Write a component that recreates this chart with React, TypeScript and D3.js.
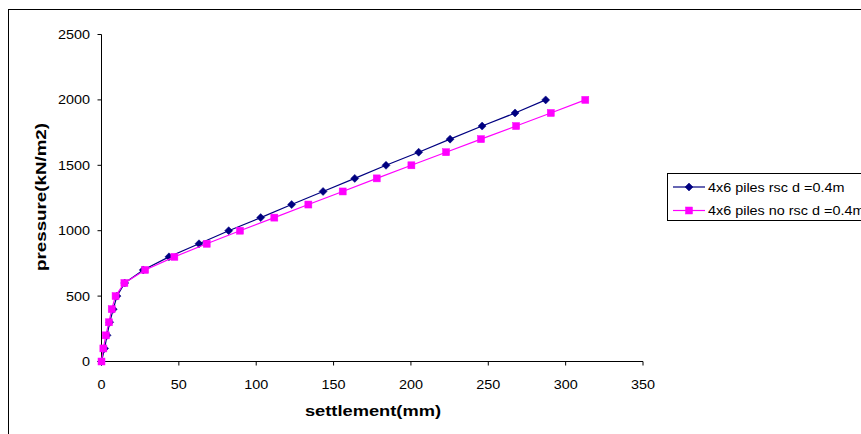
import React from "react";
import * as d3 from "d3";

const pressures = [0, 100, 200, 300, 400, 500, 600, 700, 800, 900, 1000, 1100, 1200, 1300, 1400, 1500, 1600, 1700, 1800, 1900, 2000];
const settlementRsc = [0, 2, 3.6, 5.3, 7.6, 10, 15, 27, 43.6, 63, 82.2, 102.9, 122.9, 143.2, 163.7, 183.9, 205, 225.3, 246, 267.3, 287.1];
const settlementNoRsc = [0, 1.2, 2.8, 4.8, 6.6, 9.1, 14.8, 28.2, 47.1, 68, 89.5, 111.7, 133.7, 155.9, 177.9, 200.3, 222.7, 245.3, 268, 290.4, 312.7];
const xTicks = [0, 50, 100, 150, 200, 250, 300, 350];
const yTicks = [0, 500, 1000, 1500, 2000, 2500];
const seriesNames = ["4x6 piles rsc d =0.4m", "4x6 piles no rsc d =0.4m"];
const seriesColors = ["#000080", "#FF00FF"];

export default function App() {
  const W = 861, H = 434;
  const x = d3.scaleLinear().domain([0, 350]).range([101.5, 643]);
  const y = d3.scaleLinear().domain([0, 2500]).range([361.5, 34.5]);
  const font = "Arial, 'Liberation Sans', sans-serif";
  const series = [settlementRsc, settlementNoRsc];
  const SX = 1.2;

  const diamond = (cx: number, cy: number, c: string, k: string) => (
    <path key={k} d={`M${cx},${cy - 4}L${cx + 4},${cy}L${cx},${cy + 4}L${cx - 4},${cy}Z`} fill={c} stroke={c} strokeWidth={0.5} />
  );
  const square = (cx: number, cy: number, c: string, k: string) => (
    <rect key={k} x={cx - 3.5} y={cy - 3.5} width={7} height={7} fill={c} stroke={c} strokeWidth={0.5} />
  );

  return (
    <svg width={W} height={H} style={{ position: "absolute", left: 0, top: 0, background: "#fff" }}>
      <rect x={8.5} y={9.5} width={W} height={H} fill="#fff" stroke="#000" strokeWidth={1} />
      <line x1={x(0)} y1={y(0)} x2={x(350)} y2={y(0)} stroke="#000" strokeWidth={1} />
      <line x1={x(0)} y1={y(0)} x2={x(0)} y2={y(2500)} stroke="#000" strokeWidth={1} />
      {xTicks.map((t) => (
        <g key={"xt" + t}>
          <line x1={x(t)} x2={x(t)} y1={y(0)} y2={y(0) + 4} stroke="#000" />
          <text transform={`translate(${x(t)},${y(0) + 27}) scale(${SX},1)`} textAnchor="middle" fontFamily={font} fontSize={12} fill="#000">{t}</text>
        </g>
      ))}
      {yTicks.map((t) => (
        <g key={"yt" + t}>
          <line x1={x(0) - 4} x2={x(0)} y1={y(t)} y2={y(t)} stroke="#000" />
          <text transform={`translate(90,${y(t) + 4.5}) scale(${SX},1)`} textAnchor="end" fontFamily={font} fontSize={12} fill="#000">{t}</text>
        </g>
      ))}
      <text transform={`translate(373,416) scale(1.22,1)`} textAnchor="middle" fontFamily={font} fontSize={15} fontWeight="bold" fill="#000">settlement(mm)</text>
      <text transform={`translate(46,197) rotate(-90) scale(1.25,1)`} textAnchor="middle" fontFamily={font} fontSize={15} fontWeight="bold" fill="#000">pressure(kN/m2)</text>
      {series.map((s, i) => {
        const pts = s.map((v, j) => [x(v), y(pressures[j])] as [number, number]);
        const path = d3.line()(pts) || "";
        return (
          <g key={"s" + i}>
            <path d={path} fill="none" stroke={seriesColors[i]} strokeWidth={1.2} />
            {pts.map((p, j) => (i === 0 ? diamond(p[0], p[1], seriesColors[i], `m${i}-${j}`) : square(p[0], p[1], seriesColors[i], `m${i}-${j}`)))}
          </g>
        );
      })}
      <rect x={667.5} y={173.5} width={300} height={47} fill="#fff" stroke="#000" strokeWidth={1} />
      {seriesNames.map((n, i) => {
        const ly = 187 + i * 23.5;
        return (
          <g key={"lg" + i}>
            <line x1={673} x2={705} y1={ly} y2={ly} stroke={seriesColors[i]} strokeWidth={1.2} />
            {i === 0 ? diamond(689, ly, seriesColors[i], "ld" + i) : square(689, ly, seriesColors[i], "ld" + i)}
            <text transform={`translate(708,${ly + 4.5}) scale(${SX},1)`} fontFamily={font} fontSize={12} fill="#000">{n}</text>
          </g>
        );
      })}
    </svg>
  );
}
